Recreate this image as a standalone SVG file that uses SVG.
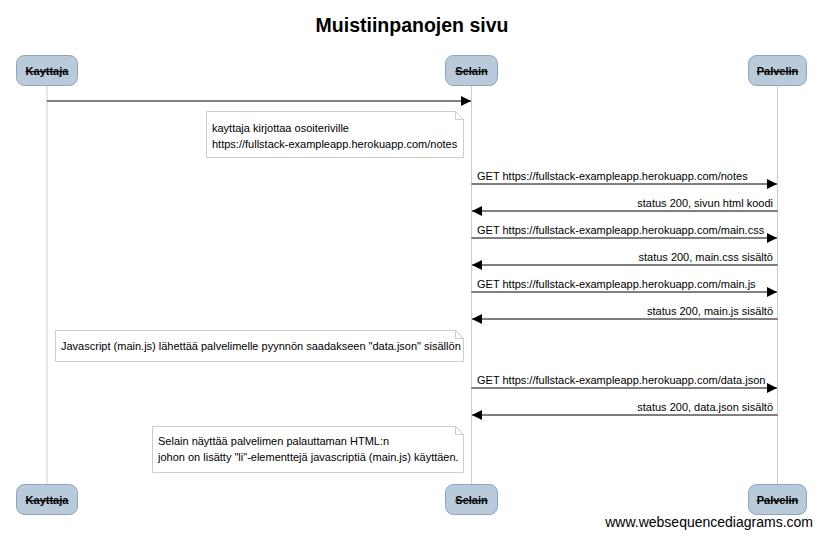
<svg xmlns="http://www.w3.org/2000/svg" width="822" height="537" viewBox="0 0 822 537">
<style>
text{font-family:"Liberation Sans",Arial,sans-serif;fill:#000}
.title{font-size:19.5px;font-weight:bold;text-anchor:middle}
.actor rect{fill:#b9cbda;stroke:#8ea4c0;stroke-width:1}
.actor text{font-size:11px;font-weight:bold;text-anchor:middle;text-decoration:line-through}
.life{stroke:#cccccc;stroke-width:1}
.msg{stroke:#000;stroke-width:1;fill:none}
.lbl{font-size:11px}
.r{text-anchor:end}
.note path{fill:#fff;stroke:#cccccc;stroke-width:1}
.note text{font-size:11px}
</style>
<defs>
<marker id="ah" markerWidth="10" markerHeight="10" refX="10" refY="5" orient="auto" markerUnits="userSpaceOnUse">
<path d="M0,0 L10,5 L0,10 Z" fill="#000"/>
</marker>
</defs>
<rect width="822" height="537" fill="#fff"/>
<text class="title" x="412" y="32">Muistiinpanojen sivu</text>
<g id="lifelines">
<line class="life" x1="47" y1="86" x2="47" y2="484"/>
<line class="life" x1="471.5" y1="86" x2="471.5" y2="484"/>
<line class="life" x1="777.5" y1="86" x2="777.5" y2="484"/>
</g>
<g id="actor-kayttaja-top" class="actor"><rect x="16.5" y="55.5" width="61" height="30" rx="8"/><text x="47" y="75">Kayttaja</text></g>
<g id="actor-selain-top" class="actor"><rect x="445.5" y="55.5" width="52" height="30" rx="8"/><text x="471.5" y="75">Selain</text></g>
<g id="actor-palvelin-top" class="actor"><rect x="748.5" y="55.5" width="58" height="30" rx="8"/><text x="777.5" y="75">Palvelin</text></g>
<g id="actor-kayttaja-bottom" class="actor"><rect x="16.5" y="484.5" width="61" height="30" rx="8"/><text x="47" y="504">Kayttaja</text></g>
<g id="actor-selain-bottom" class="actor"><rect x="445.5" y="484.5" width="52" height="30" rx="8"/><text x="471.5" y="504">Selain</text></g>
<g id="actor-palvelin-bottom" class="actor"><rect x="748.5" y="484.5" width="58" height="30" rx="8"/><text x="777.5" y="504">Palvelin</text></g>
<g id="connectors">
<line class="msg" x1="47" y1="101" x2="471" y2="101" marker-end="url(#ah)"/>
<line class="msg" x1="471.5" y1="184" x2="777" y2="184" marker-end="url(#ah)"/>
<text class="lbl" x="477" y="180">GET https://fullstack-exampleapp.herokuapp.com/notes</text>
<line class="msg" x1="777.5" y1="211" x2="472" y2="211" marker-end="url(#ah)"/>
<text class="lbl r" x="773" y="207">status 200, sivun html koodi</text>
<line class="msg" x1="471.5" y1="238" x2="777" y2="238" marker-end="url(#ah)"/>
<text class="lbl" x="477" y="234">GET https://fullstack-exampleapp.herokuapp.com/main.css</text>
<line class="msg" x1="777.5" y1="265" x2="472" y2="265" marker-end="url(#ah)"/>
<text class="lbl r" x="773" y="261">status 200, main.css sisältö</text>
<line class="msg" x1="471.5" y1="292" x2="777" y2="292" marker-end="url(#ah)"/>
<text class="lbl" x="477" y="288">GET https://fullstack-exampleapp.herokuapp.com/main.js</text>
<line class="msg" x1="777.5" y1="319" x2="472" y2="319" marker-end="url(#ah)"/>
<text class="lbl r" x="773" y="315">status 200, main.js sisältö</text>
<line class="msg" x1="471.5" y1="388" x2="777" y2="388" marker-end="url(#ah)"/>
<text class="lbl" x="477" y="384">GET https://fullstack-exampleapp.herokuapp.com/data.json</text>
<line class="msg" x1="777.5" y1="415" x2="472" y2="415" marker-end="url(#ah)"/>
<text class="lbl r" x="773" y="411">status 200, data.json sisältö</text>
</g>
<g id="note1" class="note">
<path d="M206.5,111.5 H455.5 L463.5,119.5 V157.5 H206.5 Z M455.5,111.5 V119.5 H463.5"/>
<text x="212" y="132">kayttaja kirjottaa osoiteriville</text>
<text x="212" y="148">https://fullstack-exampleapp.herokuapp.com/notes</text>
</g>
<g id="note2" class="note">
<path d="M55.5,330.5 H455.5 L463.5,338.5 V361.5 H55.5 Z M455.5,330.5 V338.5 H463.5"/>
<text x="61" y="350">Javascript (main.js) lähettää palvelimelle pyynnön saadakseen "data.json" sisällön</text>
</g>
<g id="note3" class="note">
<path d="M152.5,426.5 H455.5 L463.5,434.5 V472.5 H152.5 Z M455.5,426.5 V434.5 H463.5"/>
<text x="158" y="445">Selain näyttää palvelimen palauttaman HTML:n</text>
<text x="158" y="461">johon on lisätty "li"-elementtejä javascriptiä (main.js) käyttäen.</text>
</g>
<text x="813" y="527" font-size="14" text-anchor="end">www.websequencediagrams.com</text>
</svg>
